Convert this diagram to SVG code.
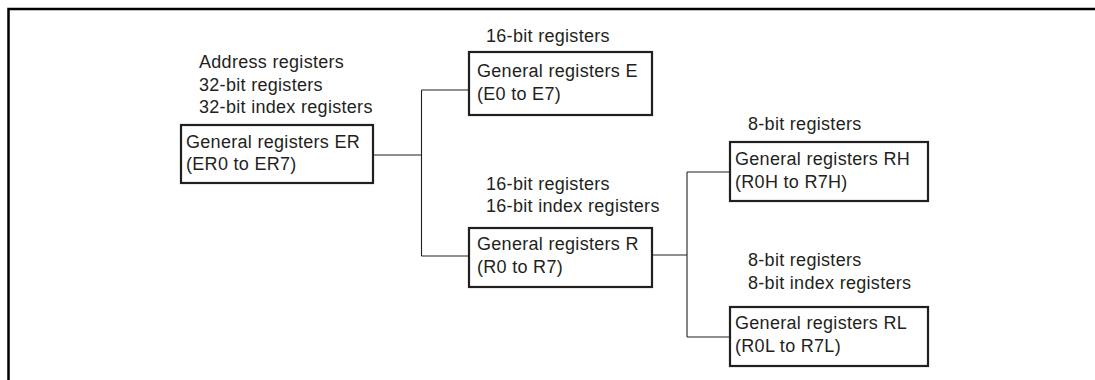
<svg xmlns="http://www.w3.org/2000/svg" width="1095" height="380" viewBox="0 0 1095 380">
<style>
.frame{fill:none;stroke:#000;stroke-width:2.5}
.box{fill:#fff;stroke:#231f20;stroke-width:2.2}
.conn{fill:none;stroke:#231f20;stroke-width:1.1}
text{font-family:"Liberation Sans",Arial,sans-serif;font-size:18px;letter-spacing:0.3px;fill:#231f20}
</style>
<rect width="1095" height="380" fill="#fff"/>
<path class="frame" d="M8.5,382 V9 H1097"/>
<g id="connectors">
<path class="conn" d="M373,155 H421.5 M421.5,90 V256 M421.5,90 H469 M421.5,256 H468"/>
<path class="conn" d="M652,255 H687 M687,172 V337 M687,172 H730 M687,337 H730"/>
</g>
<g id="node-er">
<text x="199" y="68">Address registers</text>
<text x="199" y="91">32-bit registers</text>
<text x="199" y="113">32-bit index registers</text>
<rect class="box" x="181" y="125" width="192" height="58"/>
<text x="186" y="148">General registers ER</text>
<text x="186" y="170">(ER0 to ER7)</text>
</g>
<g id="node-e">
<text x="486" y="42">16-bit registers</text>
<rect class="box" x="469" y="52" width="183" height="63"/>
<text x="477" y="77">General registers E</text>
<text x="477" y="100">(E0 to E7)</text>
</g>
<g id="node-r">
<text x="486" y="190">16-bit registers</text>
<text x="486" y="212">16-bit index registers</text>
<rect class="box" x="469" y="228" width="183" height="59"/>
<text x="477" y="250">General registers R</text>
<text x="477" y="273">(R0 to R7)</text>
</g>
<g id="node-rh">
<text x="748" y="130">8-bit registers</text>
<rect class="box" x="730" y="142" width="198" height="59"/>
<text x="735" y="165">General registers RH</text>
<text x="735" y="188">(R0H to R7H)</text>
</g>
<g id="node-rl">
<text x="748" y="266">8-bit registers</text>
<text x="748" y="289">8-bit index registers</text>
<rect class="box" x="730" y="307" width="198" height="59"/>
<text x="735" y="329">General registers RL</text>
<text x="735" y="352">(R0L to R7L)</text>
</g>
</svg>
